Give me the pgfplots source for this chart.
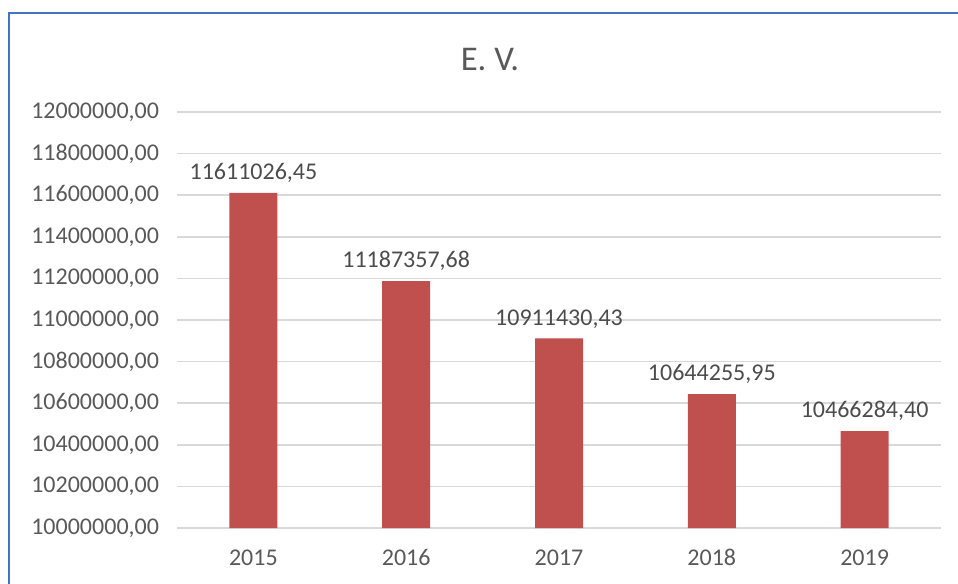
\documentclass[border=0pt]{standalone}
\usepackage{fontspec}
\setmainfont{Carlito}
\usepackage{pgfplots}
\usepackage{pgfplotstable}
\pgfplotsset{compat=1.18}

\definecolor{barred}{HTML}{C0504D}
\definecolor{ticktext}{HTML}{595959}
\definecolor{gridgray}{HTML}{D9D9D9}
\definecolor{frameblue}{HTML}{4472C4}

% year index, value, label as Excel prints it
\pgfplotstableread{
x y label
0 11611026.45 11611026,45
1 11187357.68 11187357,68
2 10911430.43 10911430,43
3 10644255.95 10644255,95
4 10466284.40 10466284,40
}\evdata

\begin{document}
\begin{tikzpicture}
\begin{axis}[
    at={(0,0)}, anchor=south west,
    scale only axis,
    width=573pt, height=312pt,
    ybar, bar width=36pt,
    xmin=-0.5, xmax=4.5,
    ymin=10000000, ymax=12000000,
    xtick={0,1,2,3,4},
    xticklabels={2015,2016,2017,2018,2019},
    ytick={10000000,10200000,10400000,10600000,10800000,11000000,11200000,11400000,11600000,11800000,12000000},
    scaled y ticks=false,
    yticklabel style={
        /pgf/number format/fixed,
        /pgf/number format/fixed zerofill,
        /pgf/number format/precision=2,
        /pgf/number format/use comma,
        /pgf/number format/1000 sep={},
        /pgf/number format/assume math mode=true,
        font=\fontsize{18}{21}\selectfont, text=ticktext, xshift=-10pt},
    xticklabel style={font=\fontsize{18}{21}\selectfont, text=ticktext,
        anchor=north, text height=12.5pt, text depth=0pt, yshift=-12pt},
    ymajorgrids,
    grid style={draw=gridgray, line width=1.1pt},
    axis line style={draw=none},
    major tick length=0pt,
    point meta=explicit symbolic,
    nodes near coords,
    nodes near coords style={font=\fontsize{18}{21}\selectfont, text=ticktext!85!black, yshift=4pt},
    clip=true,
]
\addplot[fill=barred, draw=none] table[x=x, y=y, meta=label] {\evdata};
\end{axis}
\path[use as bounding box] ([xshift=-132.75pt, yshift=-41.25pt]current axis.south west)
    rectangle ([xshift=12.75pt, yshift=84pt]current axis.north east);
\draw[frameblue, line width=1.5pt]
    ([xshift=-126pt, yshift=-45pt]current axis.south west)
    -- ([xshift=-126pt, yshift=74.25pt]current axis.north west)
    -- ([xshift=16pt, yshift=74.25pt]current axis.north east);
\node[text=ticktext, font=\fontsize{26}{30}\selectfont]
    at ([xshift=234.75pt, yshift=39pt]current axis.north west) {E. V.};
\end{tikzpicture}
\end{document}
